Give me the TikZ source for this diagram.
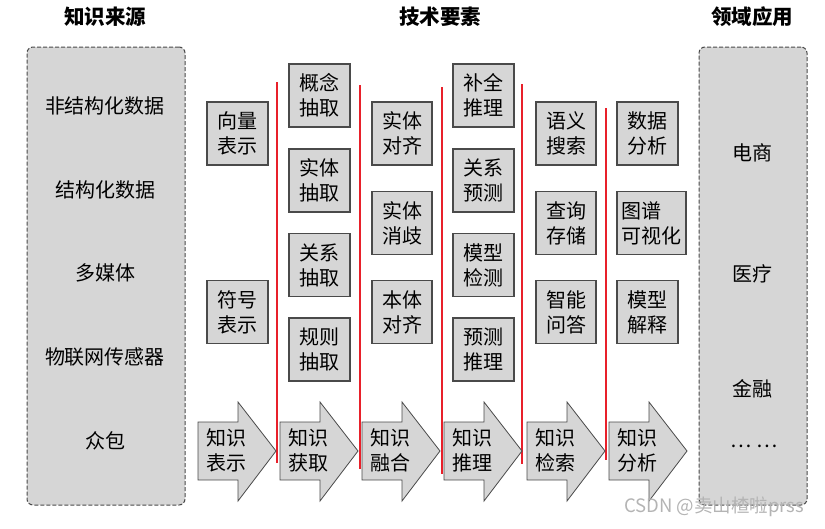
\documentclass[tikz,border=0pt]{standalone}
\usepackage{fontspec}
\setmainfont{Noto Sans CJK SC}
\definecolor{boxgray}{HTML}{D6D6D6}
\definecolor{edgegray}{HTML}{4A4A4A}
\definecolor{sepred}{HTML}{E8202A}
\definecolor{markgray}{HTML}{B4B4B4}

\begin{document}
\begin{tikzpicture}[x=1pt, y=-1pt,
  title/.style={font=\fontsize{20.5}{22}\selectfont\bfseries},
  panel/.style={draw=edgegray, line width=1pt, dash pattern=on 4pt off 2pt,
    rounded corners=6pt, fill=boxgray, minimum width=#1, minimum height=458pt},
  lab/.style={font=\fontsize{20}{22}\selectfont},
  elem/.style={draw=edgegray, line width=1.2pt, fill=boxgray, minimum width=61pt,
    minimum height=63pt, inner sep=2pt, align=center,
    font=\fontsize{20}{25}\selectfont},
  stepshape/.style={draw=edgegray, line width=0.8pt, fill=boxgray},
  sep/.style={draw=sepred, line width=1.6pt}]

  \useasboundingbox (0,0) rectangle (825,528);

  % -------------------------
  % Titels
  % -------------------------
  \node[title] (tsrc)  at (105,17) {知识来源};
  \node[title] (ttech) at (440,17) {技术要素};
  \node[title] (tapp)  at (752,17) {领域应用};

  % -------------------------
  % Knowledge sources
  % -------------------------
  \node[panel=158pt] (src) at (106,276) {};
  \node[lab] (src1) at (105,106) {非结构化数据};
  \node[lab] (src2) at (105,190) {结构化数据};
  \node[lab] (src3) at (105,273) {多媒体};
  \node[lab] (src4) at (105,357) {物联网传感器};
  \node[lab] (src5) at (105,441) {众包};

  % -------------------------
  % Domain applications
  % -------------------------
  \node[panel=108pt] (app) at (753,276) {};
  \node[lab] (app1) at (752,153) {电商};
  \node[lab] (app2) at (752,274) {医疗};
  \node[lab] (app3) at (752,389) {金融};
  \node[lab] (app4) at (754,446) {\ldots\ \ldots};

  % -------------------------
  % Separators
  % -------------------------
  \draw[sep] (277,82) -- (277,463);
  \draw[sep] (360,85) -- (360,469);
  \draw[sep] (442,87) -- (442,474);
  \draw[sep] (522,84) -- (522,464);
  \draw[sep] (606,108) -- (606,460);

  % -------------------------
  % Technique elements
  % -------------------------
  \node[elem] (rep1) at (237.5,133.5) {向量\\表示};
  \node[elem] (rep2) at (237.5,312)   {符号\\表示};

  \node[elem] (acq1) at (319.5,95.5)  {概念\\抽取};
  \node[elem] (acq2) at (319.5,180.5) {实体\\抽取};
  \node[elem] (acq3) at (319.5,265)   {关系\\抽取};
  \node[elem] (acq4) at (319.5,349.5) {规则\\抽取};

  \node[elem, minimum width=60pt] (fus1) at (402,133.5) {实体\\对齐};
  \node[elem, minimum width=60pt] (fus2) at (402,223)   {实体\\消歧};
  \node[elem, minimum width=60pt] (fus3) at (402,312)   {本体\\对齐};

  \node[elem] (inf1) at (483.5,95.5)  {补全\\推理};
  \node[elem] (inf2) at (483.5,180.5) {关系\\预测};
  \node[elem] (inf3) at (483.5,265)   {模型\\检测};
  \node[elem] (inf4) at (483.5,349.5) {预测\\推理};

  \node[elem, minimum width=60pt] (ret1) at (566,133.5) {语义\\搜索};
  \node[elem, minimum width=60pt] (ret2) at (566,223)   {查询\\存储};
  \node[elem, minimum width=60pt] (ret3) at (566,312)   {智能\\问答};

  \node[elem] (ana1) at (647.5,133.5) {数据\\分析};
  \node[elem, minimum width=69pt, align=left] (ana2) at (651.5,223) {图谱\\可视化};
  \node[elem] (ana3) at (647.5,312)   {模型\\解释};

  % -------------------------
  % Process steps
  % -------------------------
  \foreach \x/\a/\b [count=\i] in {198/知识/表示, 280/知识/获取, 362/知识/融合,
                                   444/知识/推理, 527/知识/检索, 609/知识/分析} {
    \draw[stepshape] (\x,422) -- ++(40,0) -- ++(0,-20) -- ++(38,49)
      -- ++(-38,50) -- ++(0,-21) -- ++(-40,0) -- cycle;
    \node[align=center, font=\fontsize{20}{25}\selectfont] (s\i) at (\x+28,450) {\a\\\b};
  }

  % watermark
  \node[text=markgray, font=\fontsize{18.5}{20}\selectfont] (mark) at (714,507) {CSDN @卖山楂啦prss};

\end{tikzpicture}
\end{document}
